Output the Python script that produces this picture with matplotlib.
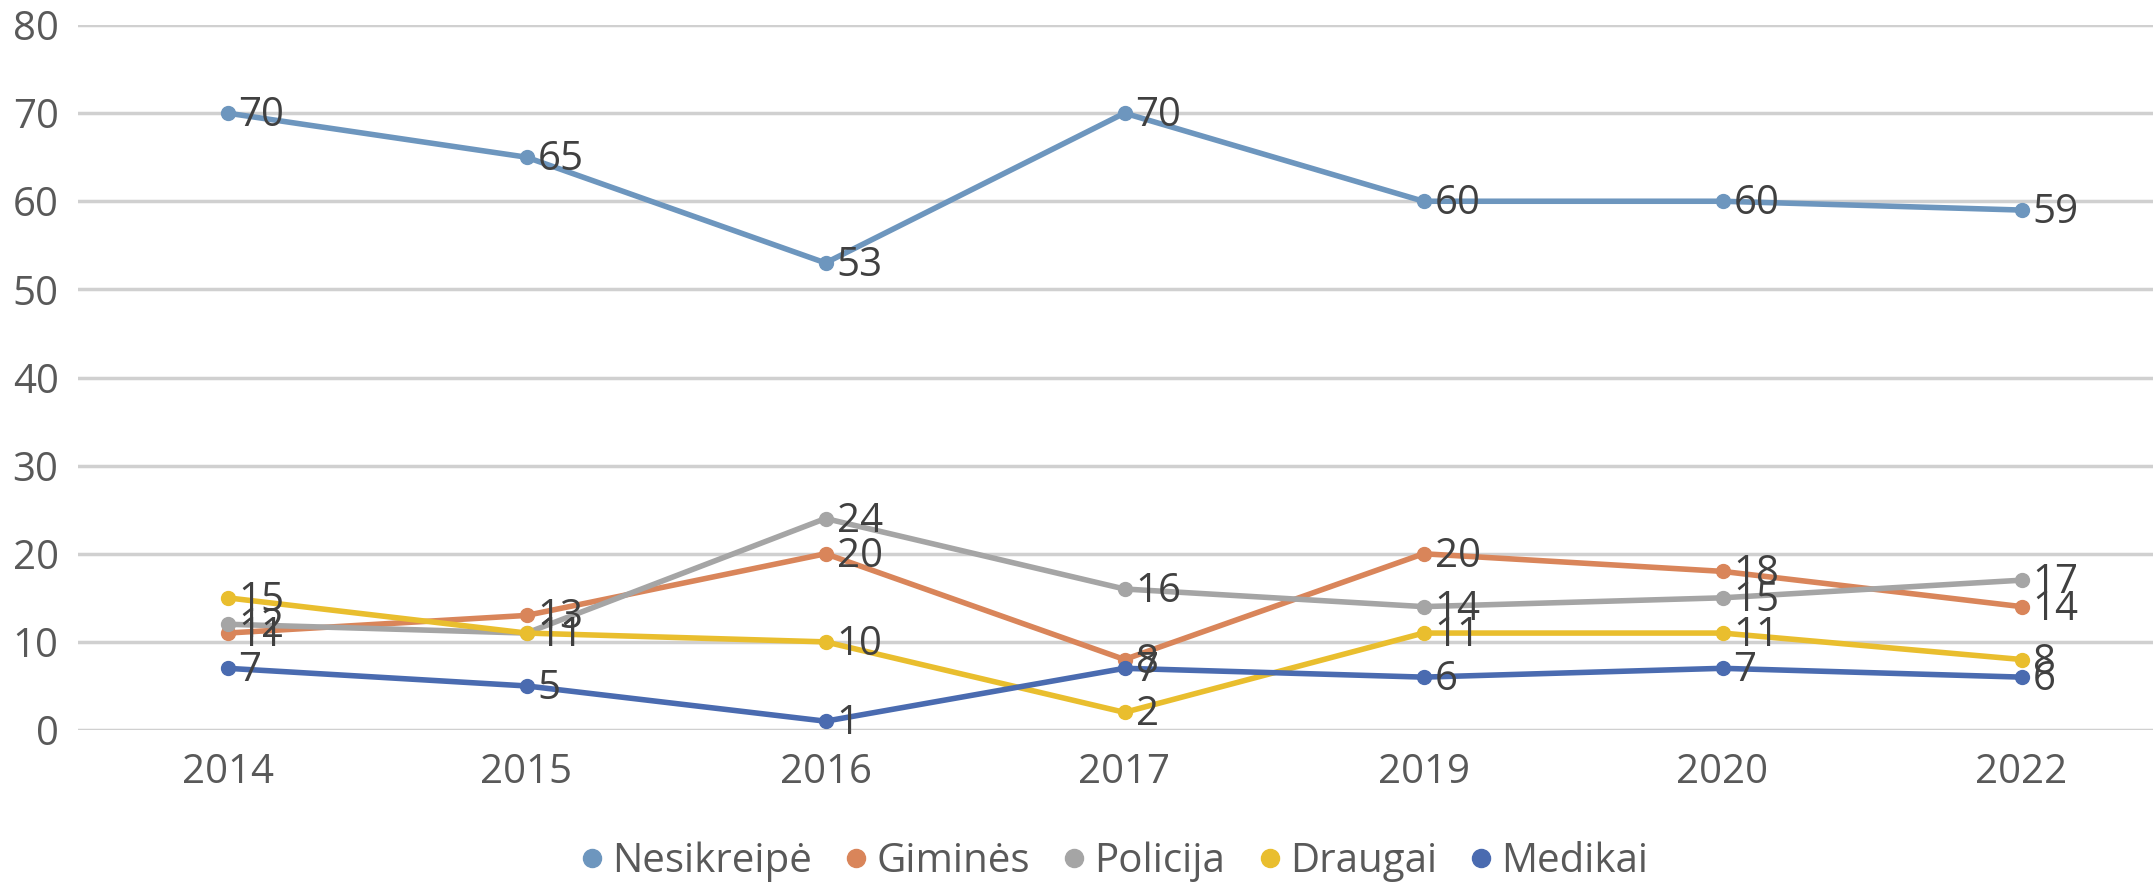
import matplotlib.pyplot as plt

years = ['2014', '2015', '2016', '2017', '2019', '2020', '2022']
nesikreipe = [70, 65, 53, 70, 60, 60, 59]
gimines = [11, 13, 20, 8, 20, 18, 14]
policija = [12, 11, 24, 16, 14, 15, 17]
draugai = [15, 11, 10, 2, 11, 11, 8]
medikai = [7, 5, 1, 7, 6, 7, 6]

series = [
    ('Nesikreipė', nesikreipe, '#6D96BE'),
    ('Giminės', gimines, '#D9855A'),
    ('Policija', policija, '#A5A5A5'),
    ('Draugai', draugai, '#E9BE2E'),
    ('Medikai', medikai, '#4A6BB0'),
]

plt.rcParams['font.family'] = ['Open Sans', 'DejaVu Sans']
fs = 29

fig = plt.figure(figsize=(21.53, 8.85), dpi=100)
ax = fig.add_axes([78 / 2153, 1 - 730 / 885, 2093 / 2153, 705 / 885])

x = list(range(len(years)))
for name, vals, col in series:
    ax.plot(x, vals, color=col, lw=4, marker='o', ms=10, label=name, zorder=3)
    for xi, v in zip(x, vals):
        ax.annotate(str(v), (xi, v), xytext=(8, -2), textcoords='offset points',
                    ha='left', va='center', fontsize=fs, color='#404040', zorder=4)

ax.set_xlim(-0.5, len(years) - 0.5)
ax.set_ylim(0, 80)
ax.set_yticks(range(0, 81, 10))
ax.set_xticks(x)
ax.set_xticklabels(years)
ax.tick_params(axis='both', length=0, labelsize=fs, labelcolor='#595959')
ax.tick_params(axis='y', pad=14)
ax.tick_params(axis='x', pad=16)
ax.grid(axis='y', color='#D0D0D0', lw=2.5)
ax.set_axisbelow(True)
for s in ax.spines.values():
    s.set_visible(False)

handles = [plt.Line2D([], [], color=c, marker='o', ls='', ms=13) for _, _, c in series]
fig.legend(handles, [n for n, _, _ in series], loc='center', bbox_to_anchor=(1110 / 2153, 1 - 862 / 885),
           ncol=5, frameon=False, fontsize=fs, handletextpad=0.0, columnspacing=0.6,
           labelcolor='#595959', handlelength=1.0)

fig.savefig('out.png', dpi=100)
